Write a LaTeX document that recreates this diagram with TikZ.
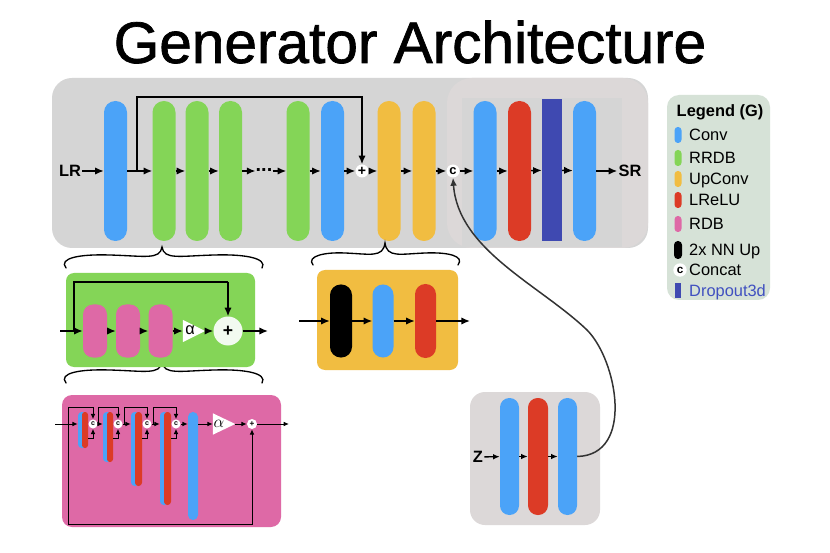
\documentclass[tikz,border=0pt]{standalone}
\usepackage{fontspec}
\setmainfont{Liberation Sans}
\newfontfamily\titlefont[FakeBold=1.2]{Liberation Sans}
\usetikzlibrary{arrows.meta}
\definecolor{cblue}{HTML}{4BA3F8}
\definecolor{cgreen}{HTML}{84D557}
\definecolor{cyellow}{HTML}{F1BD41}
\definecolor{cred}{HTML}{DC3B26}
\definecolor{cpink}{HTML}{DE69A6}
\definecolor{cdblue}{HTML}{3F49B1}
\definecolor{cgray}{HTML}{D5D5D5}
\definecolor{cgrayb}{HTML}{DCD8D8}
\definecolor{clegend}{HTML}{D6E2D7}
\definecolor{cplus}{HTML}{F2FAF0}
\definecolor{ccurve}{HTML}{333333}
\definecolor{ctextblue}{HTML}{4050C0}
\begin{document}
\begin{tikzpicture}[x=0.3mm,y=-0.3mm,
  blk/.style={rectangle, inner sep=0pt, draw=none},
  mainpill/.style={blk, minimum width=6.9mm, minimum height=42mm, rounded corners=3.4mm},
  arr/.style={line width=0.45mm, -{Latex[length=2.6mm,width=2.2mm]}},
  marr/.style={line width=0.4mm, -{Latex[length=2mm,width=1.7mm]}},
  sarr/.style={line width=0.3mm, -{Latex[length=1.6mm,width=1.4mm]}},
  brace/.style={line width=0.4mm, line cap=round},
  lbl/.style={font=\fontsize{14}{16}\selectfont\bfseries, inner sep=1pt},
  leg/.style={font=\fontsize{14}{16}\selectfont, anchor=base west, inner sep=0pt},
  circ/.style={circle, fill=white, inner sep=0pt, draw=none}
]
\useasboundingbox (0,0) rectangle (830,553);
\fill[white] (0,0) rectangle (830,553);

% title
\node[anchor=base, inner sep=0pt, font=\titlefont\fontsize{50}{60}\selectfont] (title) at (410,63) {Generator Architecture};

% main background
\fill[cgray, rounded corners=6mm] (52,78) rectangle (648,248);
\fill[cgrayb, rounded corners=7.5mm] (447,78) rectangle (648,248);
\fill[cgray] (462,98) rectangle (622,247);

% main blocks
\node[lbl] (lr) at (70,171) {LR};
\node[mainpill, fill=cblue] (b1) at (115.5,171) {};
\node[mainpill, fill=cgreen] (g1) at (164,171) {};
\node[mainpill, fill=cgreen] (g2) at (197,171) {};
\node[mainpill, fill=cgreen] (g3) at (230.5,171) {};
\node[font=\fontsize{17}{17}\selectfont\bfseries, inner sep=0pt] (dots) at (264,170) {...};
\node[mainpill, fill=cgreen] (g4) at (298,171) {};
\node[mainpill, fill=cblue] (b2) at (332.5,171) {};
\node[circ, minimum size=3.9mm, font=\fontsize{12}{12}\selectfont\bfseries] (pl1) at (362,171) {+};
\node[mainpill, fill=cyellow] (y1) at (389,171) {};
\node[mainpill, fill=cyellow] (y2) at (424,171) {};
\node[circ, minimum size=3.9mm, font=\fontsize{11}{11}\selectfont\bfseries] (cc) at (453,171) {c};
\node[mainpill, fill=cblue] (b3) at (485,171) {};
\node[mainpill, fill=cred] (r1) at (519.5,171) {};
\node[blk, fill=cdblue, minimum width=6mm, minimum height=42.6mm] (dr) at (552,170) {};
\node[mainpill, fill=cblue] (b4) at (584.5,171) {};
\node[lbl] (sr) at (630,171) {SR};

\draw[arr] (lr) -- (b1);
\draw[arr] (b1) -- (g1);
\draw[arr] (g1) -- (g2);
\draw[arr] (g2) -- (g3);
\draw[arr] (g3) -- (g3 -| dots.west);
\draw[arr] (dots.east |- g4) -- (g4);
\draw[arr] (g4) -- (b2);
\draw[arr] (b2) -- (pl1);
\draw[arr] (pl1) -- (y1);
\draw[arr] (y1) -- (y2);
\draw[arr] (y2) -- (cc);
\draw[arr] (cc) -- (b3);
\draw[arr] (b3) -- (r1);
\draw[arr] (r1) -- (dr);
\draw[arr] (dr) -- (b4);
\draw[arr] (b4) -- (sr);
\coordinate (s0) at (137,171);
\coordinate (s1) at (362,97);
\draw[arr] (s0) |- (s1) -- (pl1);

% braces
\draw[brace] (66,268) .. controls (58,258) and (80,254) .. (110,255) .. controls (145,256) and (160,260) .. (162,247) .. controls (164,260) and (179,256) .. (214,255) .. controls (244,254) and (268,258) .. (262,268);
\begin{scope}[shift={(0,115)}]
\draw[brace] (66,268) .. controls (58,258) and (80,254) .. (110,255) .. controls (145,256) and (160,260) .. (162,247) .. controls (164,260) and (179,256) .. (214,255) .. controls (244,254) and (268,258) .. (262,268);
\end{scope}
\draw[brace] (313,265) .. controls (306,256) and (325,252) .. (345,253) .. controls (370,254) and (383,258) .. (385,243) .. controls (387,258) and (400,254) .. (425,253) .. controls (448,252) and (465,256) .. (458,265);

% RRDB detail (green box)
\fill[cgreen, rounded corners=2.4mm] (66,273) rectangle (255,367);
\node[blk, fill=cpink, minimum width=7.2mm, minimum height=15.9mm, rounded corners=3mm] (p1) at (95,331) {};
\node[blk, fill=cpink, minimum width=7.2mm, minimum height=15.9mm, rounded corners=3mm] (p2) at (128,331) {};
\node[blk, fill=cpink, minimum width=7.2mm, minimum height=15.9mm, rounded corners=3mm] (p3) at (160.5,331) {};
\node[blk, minimum width=6.6mm, minimum height=6.6mm] (t1) at (194,331) {};
\fill[white] (t1.north west) -- (t1.east) -- (t1.south west) -- cycle;
\node[inner sep=0pt, font=\fontsize{14}{14}\selectfont] (al1) at (190,330) {α};
\node[circ, fill=cplus, minimum size=8.7mm, font=\fontsize{15}{15}\selectfont\bfseries] (pl3) at (228,331) {+};
\coordinate (gin) at (60,331);
\coordinate (gout) at (268,331);
\coordinate (gs0) at (74,331);
\coordinate (gs1) at (228,282);
\draw[arr] (gin) -- (p1);
\draw[arr] (p1) -- (p2);
\draw[arr] (p2) -- (p3);
\draw[arr] (p3) -- (t1.west);
\draw[arr] (t1.east) -- (pl3);
\draw[arr] (pl3) -- (gout);
\draw[line width=0.45mm] (gs0) |- (gs1);
\draw[arr] (gs1) -- (pl3);

% UpConv detail (yellow box)
\fill[cyellow, rounded corners=2.4mm] (317,270) rectangle (458,370);
\node[blk, fill=black, minimum width=6.6mm, minimum height=21.9mm, rounded corners=3.2mm] (k1) at (341,321) {};
\node[blk, fill=cblue, minimum width=6.3mm, minimum height=21.9mm, rounded corners=3.1mm] (ub) at (383,321) {};
\node[blk, fill=cred, minimum width=6.3mm, minimum height=22.2mm, rounded corners=3.1mm] (ur) at (425.5,321) {};
\coordinate (yin) at (299,321);
\coordinate (yout) at (470,321);
\draw[arr] (yin) -- (k1);
\draw[arr] (k1) -- (ub);
\draw[arr] (ub) -- (ur);
\draw[arr] (ur) -- (yout);

% RDB detail (pink box)
\fill[cpink, rounded corners=3mm] (62,395) rectangle (281,527);
\node[blk, fill=cblue, minimum width=2.4mm, minimum height=10.8mm, rounded corners=1.1mm] (rb1) at (82,430) {};
\node[blk, fill=cred, minimum width=1.8mm, minimum height=10.8mm, rounded corners=0.85mm] (rr1) at (85,430) {};
\node[blk, fill=cblue, minimum width=2.4mm, minimum height=15mm, rounded corners=1.1mm] (rb2) at (107,437) {};
\node[blk, fill=cred, minimum width=1.8mm, minimum height=15mm, rounded corners=0.85mm] (rr2) at (110,437) {};
\node[blk, fill=cblue, minimum width=2.4mm, minimum height=22.2mm, rounded corners=1.1mm] (rb3) at (135,449) {};
\node[blk, fill=cred, minimum width=2.1mm, minimum height=22.2mm, rounded corners=1mm] (rr3) at (138.5,449) {};
\node[blk, fill=cblue, minimum width=2.4mm, minimum height=27.9mm, rounded corners=1.1mm] (rb4) at (164,458.5) {};
\node[blk, fill=cred, minimum width=2.1mm, minimum height=27.9mm, rounded corners=1mm] (rr4) at (167.5,458.5) {};
\node[blk, fill=cblue, minimum width=3mm, minimum height=32.4mm, rounded corners=1.45mm] (bb) at (193,466) {};
\node[circ, minimum size=2.7mm, font=\fontsize{6}{6}\selectfont\bfseries] (c1) at (93,424) {c};
\node[circ, minimum size=2.7mm, font=\fontsize{6}{6}\selectfont\bfseries] (c2) at (118,424) {c};
\node[circ, minimum size=2.7mm, font=\fontsize{6}{6}\selectfont\bfseries] (c3) at (147,424) {c};
\node[circ, minimum size=2.7mm, font=\fontsize{6}{6}\selectfont\bfseries] (c4) at (176,424) {c};
\node[blk, minimum width=6.6mm, minimum height=6.3mm] (t2) at (224,424) {};
\fill[white] (t2.north west) -- (t2.east) -- (t2.south west) -- cycle;
\node[inner sep=0pt, font=\fontsize{15}{15}\selectfont] (al2) at (219,424) {$\alpha$};
\node[circ, minimum size=3mm, font=\fontsize{7}{7}\selectfont\bfseries] (pl2) at (252,424) {+};
\coordinate (pin) at (55,424);
\coordinate (pout) at (289,424);
\coordinate (sk) at (68,424);
\coordinate (skt) at (68,407);
\coordinate (skb) at (68,524);
\coordinate (k1a) at (98,424);
\coordinate (k1t) at (98,407);
\coordinate (k2a) at (124,424);
\coordinate (k2t) at (124,407);
\coordinate (k3a) at (153,424);
\coordinate (k3t) at (153,407);
\draw[sarr] (pin) -- (pin -| rb1.west);
\draw[sarr] (sk) -- (skt) -| (c1.north);
\draw[sarr] (sk) -- (skb) -| (pl2.south);
\draw[sarr] (rr1.east |- 0,438) -| (c1.south);
\draw[sarr] (rr2.east |- 0,438) -| (c2.south);
\draw[sarr] (rr3.east |- 0,438) -| (c3.south);
\draw[sarr] (rr4.east |- 0,438) -| (c4.south);
\draw[sarr] (c1) -- (c1 -| rb2.west);
\draw[sarr] (c2) -- (c2 -| rb3.west);
\draw[sarr] (c3) -- (c3 -| rb4.west);
\draw[sarr] (c4) -- (c4 -| bb.west);
\draw[sarr] (k1a) -- (k1t) -| (c2.north);
\draw[sarr] (k2a) -- (k2t) -| (c3.north);
\draw[sarr] (k3a) -- (k3t) -| (c4.north);
\draw[sarr] (bb.east |- t2) -- (t2.west);
\draw[sarr] (t2.east) -- (pl2);
\draw[sarr] (pl2) -- (pout);

% Z branch
\fill[cgrayb, rounded corners=4.5mm] (470,392) rectangle (600,525);
\node[lbl] (z) at (478,457) {Z};
\node[blk, fill=cblue, minimum width=5.7mm, minimum height=35.1mm, rounded corners=2.8mm] (zb1) at (509.5,456.5) {};
\node[blk, fill=cred, minimum width=6mm, minimum height=35.1mm, rounded corners=2.9mm] (zr) at (538,456.5) {};
\node[blk, fill=cblue, minimum width=5.7mm, minimum height=35.1mm, rounded corners=2.8mm] (zb2) at (567.5,456.5) {};
\draw[marr] (z) -- (zb1);
\draw[marr] (zb1) -- (zr);
\draw[marr] (zr) -- (zb2);
\draw[ccurve, line width=0.45mm, -{Latex[length=2.4mm,width=2mm]}] (zb2.east) .. controls (635,455) and (617,360) .. (587,330) .. controls (540,285) and (458,250) .. (cc.south);

% legend
\fill[clegend, rounded corners=3.6mm] (667,95) rectangle (770,300);
\node[font=\fontsize{14}{16}\selectfont\bfseries, anchor=base, inner sep=0pt] (lgt) at (720,117) {Legend (G)};
\node[blk, fill=cblue, minimum width=2.1mm, minimum height=4.8mm, rounded corners=1mm] (lg1) at (678,135) {};
\node[leg] (lt1) at (689,141) {Conv};
\node[blk, fill=cgreen, minimum width=2.1mm, minimum height=4.8mm, rounded corners=1mm] (lg2) at (678,158) {};
\node[leg] (lt2) at (689,164) {RRDB};
\node[blk, fill=cyellow, minimum width=2.1mm, minimum height=4.8mm, rounded corners=1mm] (lg3) at (678,179) {};
\node[leg] (lt3) at (689,185) {UpConv};
\node[blk, fill=cred, minimum width=2.1mm, minimum height=4.8mm, rounded corners=1mm] (lg4) at (678,200) {};
\node[leg] (lt4) at (689,206) {LReLU};
\node[blk, fill=cpink, minimum width=2.1mm, minimum height=4.8mm, rounded corners=1mm] (lg5) at (678,224) {};
\node[leg] (lt5) at (689,230) {RDB};
\node[blk, fill=black, minimum width=2.4mm, minimum height=5.4mm, rounded corners=1.15mm] (lg6) at (678,250) {};
\node[leg] (lt6) at (689,256) {2x NN Up};
\node[circ, minimum size=4mm, font=\fontsize{10}{10}\selectfont\bfseries] (lg7) at (680,270) {c};
\node[leg] (lt7) at (689,276) {Concat};
\node[blk, fill=cdblue, minimum width=1.8mm, minimum height=4.5mm] (lg8) at (678,291) {};
\node[leg, text=ctextblue] (lt8) at (689,297) {Dropout3d};
\end{tikzpicture}
\end{document}
